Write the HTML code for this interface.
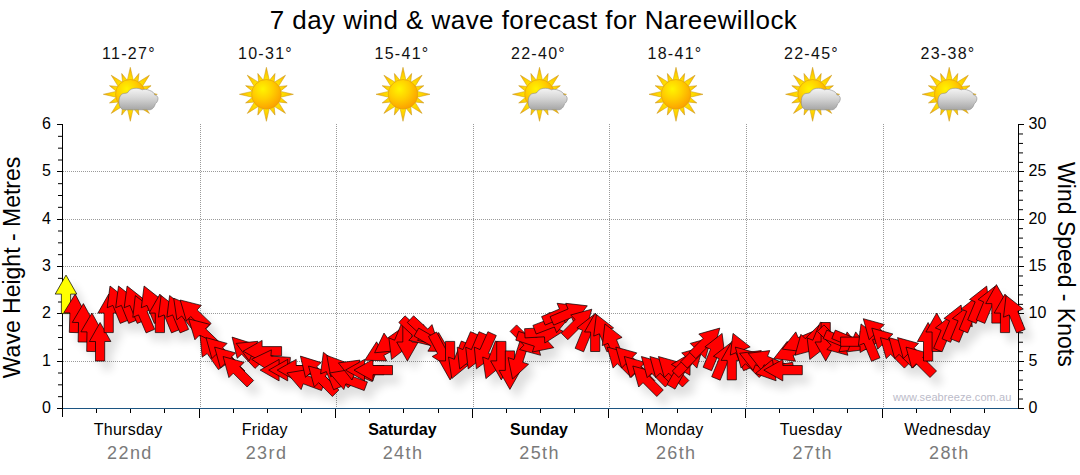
<!DOCTYPE html>
<html><head><meta charset="utf-8"><title>7 day wind &amp; wave forecast</title>
<style>
html,body{margin:0;padding:0;background:#fff;}
body{width:1080px;height:475px;overflow:hidden;font-family:"Liberation Sans",sans-serif;}
svg{display:block;position:absolute;left:0;top:0;}
text{font-family:"Liberation Sans",sans-serif;}
.title{font-size:26px;fill:#000;text-anchor:middle;letter-spacing:0.44px;}
.temp{font-size:16px;fill:#111;text-anchor:middle;letter-spacing:1.3px;}
.ylab{font-size:16px;fill:#000;}
.day{font-size:16px;fill:#000;text-anchor:middle;letter-spacing:0.25px;}
.dayb{font-size:16px;fill:#000;text-anchor:middle;font-weight:bold;}
.date{font-size:18px;fill:#7a7a7a;text-anchor:middle;letter-spacing:1.4px;}
.atitle{font-size:23px;fill:#000;text-anchor:middle;}
.wm{font-size:11px;fill:#bbbbc9;letter-spacing:0.08px;}
</style></head>
<body>
<svg width="1080" height="475" viewBox="0 0 1080 475">
<defs>
<radialGradient id="sunG" cx="0.38" cy="0.32" r="0.75">
<stop offset="0" stop-color="#fff400"/><stop offset="0.45" stop-color="#ffcf00"/><stop offset="1" stop-color="#fb9a00"/>
</radialGradient>
<linearGradient id="rayG" x1="0" y1="1" x2="0" y2="0">
<stop offset="0" stop-color="#ffe600"/><stop offset="0.55" stop-color="#ffcc00"/><stop offset="1" stop-color="#f3a000"/>
</linearGradient>
<linearGradient id="cloudG" x1="0" y1="0" x2="0" y2="1">
<stop offset="0" stop-color="#f4f4f4"/><stop offset="0.45" stop-color="#d6d6d6"/><stop offset="1" stop-color="#a6a6a6"/>
</linearGradient>
<filter id="sh" x="-5%" y="-20%" width="110%" height="150%">
<feGaussianBlur in="SourceAlpha" stdDeviation="4.5"/>
<feOffset dx="7" dy="9"/>
<feComponentTransfer><feFuncA type="linear" slope="0.13"/></feComponentTransfer>
<feMerge><feMergeNode/><feMergeNode in="SourceGraphic"/></feMerge>
</filter>
<g id="sun">
<g id="rays">
<path id="rl" d="M-3.1,-13.5 L0,-27 L3.1,-13.5 Z" fill="url(#rayG)" stroke="#c79a18" stroke-width="0.5"/>
<use href="#rl" transform="rotate(45)"/><use href="#rl" transform="rotate(90)"/><use href="#rl" transform="rotate(135)"/>
<use href="#rl" transform="rotate(180)"/><use href="#rl" transform="rotate(225)"/><use href="#rl" transform="rotate(270)"/><use href="#rl" transform="rotate(315)"/>
<path id="rs" d="M-2.7,-13.5 L0,-22.5 L2.7,-13.5 Z" fill="url(#rayG)" stroke="#c79a18" stroke-width="0.5" transform="rotate(22.5)"/>
<use href="#rs" transform="rotate(45)"/><use href="#rs" transform="rotate(90)"/><use href="#rs" transform="rotate(135)"/>
<use href="#rs" transform="rotate(180)"/><use href="#rs" transform="rotate(225)"/><use href="#rs" transform="rotate(270)"/><use href="#rs" transform="rotate(315)"/>
</g>
<circle r="14.8" fill="url(#sunG)" stroke="#e09a10" stroke-width="0.6"/>
</g>
<g id="cloudsun">
<use href="#sun"/>
<path d="M-5.5,15.5 C-9.5,15.5 -11.3,12 -11.3,8 C-11.5,3 -9.5,-0.5 -6.5,-0.8 C-5,-1 -3.5,-1 -2.5,-1.8 C-1,-5 3,-6.3 6,-6 C8.5,-6 10.5,-5.3 12,-4.5 C14,-5.3 17,-5 19,-4 C22,-3 24,-1.5 24.3,0.5 C26.5,1 27.8,2.5 27.7,4.5 C27.6,6.5 26.5,8.5 25,9.5 C24,13 22,15.5 19,15.5 Z" fill="url(#cloudG)" stroke="#8a8a8a" stroke-width="0.6"/>
</g>
</defs>

<!-- title -->
<text class="title" x="533.5" y="28.5">7 day wind &amp; wave forecast for Nareewillock</text>

<!-- temps -->
<g>
<text class="temp" x="129" y="59">11-27°</text>
<text class="temp" x="265.5" y="59">10-31°</text>
<text class="temp" x="402" y="59">15-41°</text>
<text class="temp" x="538.5" y="59">22-40°</text>
<text class="temp" x="675" y="59">18-41°</text>
<text class="temp" x="811.5" y="59">22-45°</text>
<text class="temp" x="948" y="59">23-38°</text>
</g>

<!-- icons -->
<use href="#cloudsun" x="130.3" y="94.3"/>
<use href="#sun" x="266.4" y="94.3"/>
<use href="#sun" x="403" y="94.3"/>
<use href="#cloudsun" x="539.5" y="94.3"/>
<use href="#sun" x="676" y="94.3"/>
<use href="#cloudsun" x="812.6" y="94.3"/>
<use href="#cloudsun" x="949.2" y="94.3"/>

<!-- grid -->
<g stroke="#9a9a9a" stroke-width="1" stroke-dasharray="1,1" fill="none" shape-rendering="crispEdges">
<path d="M63,171.5H1018 M63,219.5H1018 M63,266.5H1018 M63,313.5H1018 M63,361.5H1018"/>
<path d="M200.5,124V408 M336.5,124V408 M473.5,124V408 M609.5,124V408 M746.5,124V408 M883.5,124V408"/>
</g>

<!-- axes -->
<g stroke="#000" stroke-width="1" fill="none" shape-rendering="crispEdges">
<path d="M62.5,124V417"/>
<path d="M1018.5,124V409"/>
<path d="M57,124.5H62 M57,171.5H62 M57,219.5H62 M57,266.5H62 M57,313.5H62 M57,361.5H62 M57,408.5H62 M1019,124.5H1024 M1019,171.5H1024 M1019,219.5H1024 M1019,266.5H1024 M1019,313.5H1024 M1019,361.5H1024 M1019,408.5H1024"/></g><g stroke="#000" stroke-width="1" fill="none"><path d="M58,136.33H62 M58,148.17H62 M58,160.00H62 M58,183.67H62 M58,195.50H62 M58,207.33H62 M58,231.00H62 M58,242.83H62 M58,254.67H62 M58,278.33H62 M58,290.17H62 M58,302.00H62 M58,325.67H62 M58,337.50H62 M58,349.33H62 M58,373.00H62 M58,384.83H62 M58,396.67H62 M1019,133.97H1023 M1019,143.43H1023 M1019,152.90H1023 M1019,162.37H1023 M1019,181.30H1023 M1019,190.77H1023 M1019,200.23H1023 M1019,209.70H1023 M1019,228.63H1023 M1019,238.10H1023 M1019,247.57H1023 M1019,257.03H1023 M1019,275.97H1023 M1019,285.43H1023 M1019,294.90H1023 M1019,304.37H1023 M1019,323.30H1023 M1019,332.77H1023 M1019,342.23H1023 M1019,351.70H1023 M1019,370.63H1023 M1019,380.10H1023 M1019,389.57H1023 M1019,399.03H1023"/>
</g>
<path d="M63,408.5H1018" stroke="#1c5582" stroke-width="1" shape-rendering="crispEdges"/>
<path d="M96.5,409V413 M130.5,409V413 M164.5,409V413 M199.5,409V418 M233.5,409V413 M267.5,409V413 M301.5,409V413 M335.5,409V418 M369.5,409V413 M403.5,409V413 M438.5,409V413 M472.5,409V418 M506.5,409V413 M540.5,409V413 M574.5,409V413 M608.5,409V418 M642.5,409V413 M677.5,409V413 M711.5,409V413 M745.5,409V418 M779.5,409V413 M813.5,409V413 M847.5,409V413 M882.5,409V418 M916.5,409V413 M950.5,409V413 M984.5,409V413" stroke="#000" stroke-width="1" shape-rendering="crispEdges" fill="none"/>

<!-- y labels -->
<text class="ylab" x="51" y="413.0" text-anchor="end">0</text>
<text class="ylab" x="51" y="365.7" text-anchor="end">1</text>
<text class="ylab" x="51" y="318.3" text-anchor="end">2</text>
<text class="ylab" x="51" y="271.0" text-anchor="end">3</text>
<text class="ylab" x="51" y="223.7" text-anchor="end">4</text>
<text class="ylab" x="51" y="176.3" text-anchor="end">5</text>
<text class="ylab" x="51" y="129.0" text-anchor="end">6</text>
<text class="ylab" x="1028.5" y="413.0">0</text>
<text class="ylab" x="1028.5" y="365.7">5</text>
<text class="ylab" x="1028.5" y="318.3">10</text>
<text class="ylab" x="1028.5" y="271.0">15</text>
<text class="ylab" x="1028.5" y="223.7">20</text>
<text class="ylab" x="1028.5" y="176.3">25</text>
<text class="ylab" x="1028.5" y="129.0">30</text>

<!-- axis titles -->
<text class="atitle" transform="translate(20.3,267.5) rotate(-90)">Wave Height - Metres</text>
<text class="atitle" transform="translate(1058.2,264.4) rotate(90)">Wind Speed - Knots</text>

<!-- day labels -->
<text class="day" x="128.1" y="434.5">Thursday</text>
<text class="date" x="129.9" y="458.5">22nd</text>
<text class="day" x="264.7" y="434.5">Friday</text>
<text class="date" x="266.5" y="458.5">23rd</text>
<text class="dayb" x="402.4" y="434.5">Saturday</text>
<text class="date" x="403.0" y="458.5">24th</text>
<text class="dayb" x="539.0" y="434.5">Sunday</text>
<text class="date" x="539.6" y="458.5">25th</text>
<text class="day" x="674.4" y="434.5">Monday</text>
<text class="date" x="676.2" y="458.5">26th</text>
<text class="day" x="810.9" y="434.5">Tuesday</text>
<text class="date" x="812.7" y="458.5">27th</text>
<text class="day" x="947.5" y="434.5">Wednesday</text>
<text class="date" x="949.3" y="458.5">28th</text>

<text class="wm" x="893" y="401">www.seabreeze.com.au</text>

<!-- arrows -->
<g filter="url(#sh)" stroke="#000" stroke-width="0.7" stroke-linejoin="miter">
<polygon points="66.0,275.1 76.8,294.1 70.6,294.1 70.6,313.6 61.4,313.6 61.4,294.1 55.2,294.1" fill="#ffff00"/>
<polygon points="75.2,294.1 85.3,313.5 79.1,313.2 78.5,332.7 69.3,332.4 69.9,312.9 63.8,312.7" fill="#ff0000"/>
<polygon points="83.4,303.6 93.8,322.7 87.7,322.6 87.3,342.1 78.1,342.0 78.5,322.5 72.3,322.4" fill="#ff0000"/>
<polygon points="91.9,313.0 102.4,332.2 96.2,332.1 95.9,351.6 86.7,351.4 87.0,331.9 80.9,331.8" fill="#ff0000"/>
<polygon points="100.1,322.5 110.9,341.5 104.7,341.5 104.7,361.0 95.5,361.0 95.5,341.5 89.4,341.5" fill="#ff0000"/>
<polygon points="108.7,294.1 119.4,313.1 113.3,313.1 113.3,332.6 104.1,332.6 104.1,313.1 97.9,313.1" fill="#ff0000"/>
<polygon points="110.0,286.0 127.1,299.6 121.4,301.9 128.7,320.0 120.2,323.4 112.9,305.4 107.2,307.7" fill="#ff0000"/>
<polygon points="118.5,286.0 135.6,299.6 129.9,301.9 137.2,320.0 128.7,323.4 121.4,305.4 115.7,307.7" fill="#ff0000"/>
<polygon points="127.1,286.0 144.2,299.6 138.5,301.9 145.8,320.0 137.2,323.4 129.9,305.4 124.2,307.7" fill="#ff0000"/>
<polygon points="135.3,295.6 152.6,308.9 147.0,311.3 154.6,329.3 146.1,332.9 138.5,314.9 132.8,317.3" fill="#ff0000"/>
<polygon points="144.1,286.0 161.2,299.6 155.5,301.9 162.8,320.0 154.3,323.4 147.0,305.4 141.3,307.7" fill="#ff0000"/>
<polygon points="159.9,294.1 170.6,313.1 164.5,313.1 164.5,332.6 155.3,332.6 155.3,313.1 149.1,313.1" fill="#ff0000"/>
<polygon points="161.1,295.5 178.3,309.0 172.6,311.3 180.0,329.4 171.5,332.9 164.1,314.9 158.4,317.2" fill="#ff0000"/>
<polygon points="169.6,295.5 186.8,309.0 181.1,311.3 188.6,329.4 180.1,332.9 172.6,314.9 166.9,317.2" fill="#ff0000"/>
<polygon points="173.7,298.2 193.8,306.5 189.0,310.3 201.0,325.7 193.7,331.3 181.7,316.0 176.9,319.8" fill="#ff0000"/>
<polygon points="180.2,300.0 201.3,305.4 197.1,309.9 211.1,323.4 204.7,330.0 190.7,316.5 186.4,320.9" fill="#ff0000"/>
<polygon points="188.7,318.9 209.9,324.4 205.6,328.8 219.6,342.3 213.2,348.9 199.2,335.4 194.9,339.8" fill="#ff0000"/>
<polygon points="200.1,335.4 219.8,344.8 214.7,348.4 225.9,364.3 218.4,369.6 207.2,353.6 202.2,357.2" fill="#ff0000"/>
<polygon points="206.0,337.6 227.1,343.4 222.7,347.8 236.5,361.6 230.0,368.1 216.2,354.3 211.9,358.6" fill="#ff0000"/>
<polygon points="214.6,347.1 235.6,352.9 231.3,357.2 245.0,371.0 238.5,377.5 224.8,363.7 220.4,368.1" fill="#ff0000"/>
<polygon points="223.1,356.5 244.1,362.4 239.8,366.7 253.6,380.5 247.1,387.0 233.3,373.2 228.9,377.6" fill="#ff0000"/>
<polygon points="232.1,337.1 252.9,343.7 248.4,347.9 261.7,362.1 255.0,368.4 241.7,354.2 237.2,358.3" fill="#ff0000"/>
<polygon points="236.2,343.4 257.9,341.3 255.4,346.9 273.2,354.8 269.5,363.2 251.7,355.3 249.2,360.9" fill="#ff0000"/>
<polygon points="243.1,351.2 262.1,340.4 262.1,346.6 281.6,346.6 281.6,355.8 262.1,355.8 262.1,361.9" fill="#ff0000"/>
<polygon points="251.7,359.3 271.4,349.9 270.9,356.1 290.4,357.4 289.7,366.6 270.3,365.2 269.9,371.4" fill="#ff0000"/>
<polygon points="260.1,370.1 279.1,359.4 279.1,365.5 298.6,365.5 298.6,374.7 279.1,374.7 279.1,380.9" fill="#ff0000"/>
<polygon points="268.7,370.1 287.7,359.4 287.7,365.5 307.2,365.5 307.2,374.7 287.7,374.7 287.7,380.9" fill="#ff0000"/>
<polygon points="277.2,370.1 296.2,359.4 296.2,365.5 315.7,365.5 315.7,374.7 296.2,374.7 296.2,380.9" fill="#ff0000"/>
<polygon points="286.9,373.0 308.4,369.4 306.3,375.2 324.7,381.9 321.5,390.5 303.2,383.8 301.1,389.6" fill="#ff0000"/>
<polygon points="300.4,356.1 321.2,362.6 316.7,366.8 330.0,381.1 323.3,387.3 310.0,373.1 305.5,377.3" fill="#ff0000"/>
<polygon points="308.5,366.0 329.5,371.8 325.2,376.2 338.9,390.0 332.4,396.5 318.7,382.7 314.3,387.0" fill="#ff0000"/>
<polygon points="323.4,352.3 340.5,365.9 334.8,368.2 342.1,386.3 333.6,389.7 326.3,371.6 320.6,373.9" fill="#ff0000"/>
<polygon points="326.8,355.4 347.2,363.0 342.5,367.0 355.0,381.9 348.0,387.8 335.5,372.9 330.8,376.9" fill="#ff0000"/>
<polygon points="329.6,373.0 351.1,369.4 349.0,375.2 367.4,381.9 364.2,390.5 345.9,383.8 343.8,389.6" fill="#ff0000"/>
<polygon points="338.4,362.9 360.0,360.1 357.7,365.8 375.8,373.1 372.3,381.6 354.3,374.3 352.0,380.0" fill="#ff0000"/>
<polygon points="345.5,370.1 364.5,359.4 364.5,365.5 384.0,365.5 384.0,374.7 364.5,374.7 364.5,380.9" fill="#ff0000"/>
<polygon points="354.0,370.1 373.0,359.4 373.0,365.5 392.5,365.5 392.5,374.7 373.0,374.7 373.0,380.9" fill="#ff0000"/>
<polygon points="364.8,360.2 376.6,341.8 379.5,347.3 396.7,338.1 401.0,346.2 383.8,355.4 386.7,360.8" fill="#ff0000"/>
<polygon points="374.6,352.8 384.0,333.1 387.5,338.1 403.5,326.9 408.8,334.5 392.8,345.6 396.3,350.7" fill="#ff0000"/>
<polygon points="391.5,359.5 388.9,337.9 394.6,340.2 402.0,322.2 410.5,325.7 403.1,343.7 408.7,346.1" fill="#ff0000"/>
<polygon points="407.4,361.0 396.7,342.0 402.8,342.0 402.8,322.5 412.0,322.5 412.0,342.0 418.2,342.0" fill="#ff0000"/>
<polygon points="430.1,345.4 408.8,340.3 413.0,335.8 398.8,322.5 405.0,315.8 419.3,329.1 423.5,324.6" fill="#ff0000"/>
<polygon points="438.6,345.4 417.4,340.3 421.6,335.8 407.3,322.5 413.6,315.8 427.8,329.1 432.0,324.6" fill="#ff0000"/>
<polygon points="449.7,351.4 427.9,351.2 431.0,345.8 414.1,336.1 418.7,328.1 435.6,337.9 438.6,332.5" fill="#ff0000"/>
<polygon points="450.6,368.2 432.2,356.5 437.6,353.6 428.5,336.4 436.6,332.0 445.8,349.3 451.2,346.4" fill="#ff0000"/>
<polygon points="450.1,379.9 439.4,360.9 445.5,360.9 445.5,341.4 454.7,341.4 454.7,360.9 460.9,360.9" fill="#ff0000"/>
<polygon points="451.8,378.6 448.5,357.0 454.3,359.3 461.3,341.0 469.8,344.3 462.9,362.5 468.6,364.8" fill="#ff0000"/>
<polygon points="459.7,368.9 457.2,347.2 462.9,349.6 470.5,331.7 478.9,335.3 471.3,353.2 477.0,355.6" fill="#ff0000"/>
<polygon points="468.2,368.9 465.7,347.2 471.4,349.6 479.0,331.7 487.5,335.3 479.9,353.2 485.5,355.6" fill="#ff0000"/>
<polygon points="476.4,368.8 474.3,347.1 480.0,349.6 487.9,331.7 496.3,335.5 488.4,353.3 494.0,355.8" fill="#ff0000"/>
<polygon points="485.9,378.6 482.7,357.0 488.4,359.3 495.4,341.0 504.0,344.3 497.0,362.5 502.7,364.8" fill="#ff0000"/>
<polygon points="501.3,379.9 490.6,360.9 496.7,360.9 496.7,341.4 505.9,341.4 505.9,360.9 512.1,360.9" fill="#ff0000"/>
<polygon points="509.9,389.4 499.1,370.4 505.3,370.4 505.3,350.9 514.5,350.9 514.5,370.4 520.6,370.4" fill="#ff0000"/>
<polygon points="512.5,379.0 508.1,357.6 514.0,359.5 520.0,340.9 528.7,343.8 522.7,362.3 528.6,364.2" fill="#ff0000"/>
<polygon points="540.6,355.3 519.5,349.5 523.9,345.2 510.1,331.4 516.6,324.9 530.4,338.7 534.7,334.3" fill="#ff0000"/>
<polygon points="553.8,347.7 532.4,352.0 534.3,346.2 515.8,340.2 518.6,331.4 537.1,337.4 539.0,331.6" fill="#ff0000"/>
<polygon points="563.2,331.3 544.8,343.0 544.5,336.8 525.0,337.9 524.6,328.7 544.0,327.7 543.7,321.5" fill="#ff0000"/>
<polygon points="570.5,315.9 556.6,332.7 554.4,327.0 536.2,334.0 532.9,325.4 551.1,318.4 548.9,312.7" fill="#ff0000"/>
<polygon points="578.8,305.8 565.5,323.1 563.1,317.5 545.2,325.1 541.6,316.6 559.5,309.0 557.1,303.3" fill="#ff0000"/>
<polygon points="587.3,305.8 574.1,323.1 571.7,317.5 553.7,325.1 550.1,316.6 568.1,309.0 565.7,303.3" fill="#ff0000"/>
<polygon points="591.8,309.2 585.9,330.2 581.6,325.9 567.8,339.7 561.3,333.2 575.1,319.4 570.7,315.0" fill="#ff0000"/>
<polygon points="594.1,314.5 596.7,336.1 591.0,333.8 583.6,351.8 575.1,348.3 582.5,330.3 576.9,327.9" fill="#ff0000"/>
<polygon points="595.2,313.0 606.0,332.0 599.8,332.0 599.8,351.5 590.6,351.5 590.6,332.0 584.5,332.0" fill="#ff0000"/>
<polygon points="596.4,314.5 613.6,327.9 607.9,330.3 615.4,348.3 606.9,351.8 599.4,333.8 593.7,336.1" fill="#ff0000"/>
<polygon points="604.9,323.9 622.1,337.4 616.5,339.7 623.9,357.8 615.4,361.3 608.0,343.3 602.3,345.6" fill="#ff0000"/>
<polygon points="607.2,347.1 628.3,352.9 623.9,357.2 637.7,371.0 631.2,377.5 617.4,363.7 613.1,368.1" fill="#ff0000"/>
<polygon points="615.8,347.1 636.8,352.9 632.5,357.2 646.2,371.0 639.7,377.5 625.9,363.7 621.6,368.1" fill="#ff0000"/>
<polygon points="624.3,356.5 645.3,362.4 641.0,366.7 654.8,380.5 648.3,387.0 634.5,373.2 630.1,377.6" fill="#ff0000"/>
<polygon points="632.8,366.0 653.9,371.8 649.5,376.2 663.3,390.0 656.8,396.5 643.0,382.7 638.7,387.0" fill="#ff0000"/>
<polygon points="641.4,356.5 662.4,362.4 658.1,366.7 671.8,380.5 665.3,387.0 651.6,373.2 647.2,377.6" fill="#ff0000"/>
<polygon points="649.9,356.5 670.9,362.4 666.6,366.7 680.4,380.5 673.9,387.0 660.1,373.2 655.7,377.6" fill="#ff0000"/>
<polygon points="658.4,356.5 679.5,362.4 675.1,366.7 688.9,380.5 682.4,387.0 668.6,373.2 664.3,377.6" fill="#ff0000"/>
<polygon points="690.2,353.5 690.0,375.3 684.7,372.2 675.0,389.1 667.0,384.5 676.7,367.6 671.4,364.5" fill="#ff0000"/>
<polygon points="702.7,347.1 696.9,368.1 692.6,363.7 678.8,377.5 672.3,371.0 686.1,357.2 681.7,352.9" fill="#ff0000"/>
<polygon points="711.3,337.6 705.4,358.6 701.1,354.3 687.3,368.1 680.8,361.6 694.6,347.8 690.2,343.4" fill="#ff0000"/>
<polygon points="719.8,328.1 714.0,349.2 709.6,344.8 695.8,358.6 689.3,352.1 703.1,338.3 698.8,334.0" fill="#ff0000"/>
<polygon points="722.1,333.4 724.8,355.1 719.1,352.7 711.6,370.7 703.1,367.2 710.6,349.2 704.9,346.9" fill="#ff0000"/>
<polygon points="730.6,342.9 733.3,364.5 727.6,362.2 720.2,380.2 711.7,376.7 719.1,358.7 713.4,356.3" fill="#ff0000"/>
<polygon points="731.8,341.4 742.6,360.4 736.4,360.4 736.4,379.9 727.2,379.9 727.2,360.4 721.1,360.4" fill="#ff0000"/>
<polygon points="733.0,333.4 750.2,346.9 744.5,349.2 752.0,367.2 743.5,370.7 736.0,352.7 730.3,355.1" fill="#ff0000"/>
<polygon points="735.3,347.1 756.3,352.9 752.0,357.2 765.7,371.0 759.2,377.5 745.5,363.7 741.1,368.1" fill="#ff0000"/>
<polygon points="739.6,353.3 761.3,350.6 758.9,356.3 777.0,363.8 773.4,372.3 755.4,364.8 753.1,370.5" fill="#ff0000"/>
<polygon points="748.2,353.3 769.8,350.6 767.5,356.3 785.5,363.8 782.0,372.3 764.0,364.8 761.6,370.5" fill="#ff0000"/>
<polygon points="755.5,373.5 772.4,359.6 773.4,365.6 792.6,362.3 794.2,371.3 775.0,374.7 776.1,380.8" fill="#ff0000"/>
<polygon points="763.8,370.1 782.8,359.4 782.8,365.5 802.3,365.5 802.3,374.7 782.8,374.7 782.8,380.9" fill="#ff0000"/>
<polygon points="773.8,358.6 787.2,341.4 789.6,347.0 807.6,339.6 811.1,348.1 793.1,355.5 795.4,361.2" fill="#ff0000"/>
<polygon points="782.3,349.1 795.8,331.9 798.1,337.6 816.1,330.1 819.6,338.6 801.6,346.1 804.0,351.8" fill="#ff0000"/>
<polygon points="795.0,355.3 800.9,334.3 805.2,338.7 819.0,324.9 825.5,331.4 811.7,345.2 816.1,349.5" fill="#ff0000"/>
<polygon points="809.8,359.5 807.1,337.9 812.8,340.2 820.3,322.2 828.8,325.7 821.3,343.7 827.0,346.1" fill="#ff0000"/>
<polygon points="825.7,361.0 815.0,342.0 821.1,342.0 821.1,322.5 830.3,322.5 830.3,342.0 836.5,342.0" fill="#ff0000"/>
<polygon points="847.9,355.3 826.8,349.5 831.2,345.2 817.4,331.4 823.9,324.9 837.7,338.7 842.0,334.3" fill="#ff0000"/>
<polygon points="860.6,349.1 838.9,351.8 841.2,346.1 823.2,338.6 826.8,330.1 844.8,337.6 847.1,331.9" fill="#ff0000"/>
<polygon points="869.1,349.1 847.4,351.8 849.8,346.1 831.8,338.6 835.3,330.1 853.3,337.6 855.7,331.9" fill="#ff0000"/>
<polygon points="879.1,341.7 860.1,352.5 860.1,346.3 840.6,346.3 840.6,337.1 860.1,337.1 860.1,331.0" fill="#ff0000"/>
<polygon points="861.0,323.9 878.2,337.4 872.5,339.7 880.0,357.8 871.5,361.3 864.0,343.3 858.4,345.6" fill="#ff0000"/>
<polygon points="863.3,318.7 884.3,324.5 880.0,328.8 893.8,342.6 887.3,349.1 873.5,335.3 869.1,339.7" fill="#ff0000"/>
<polygon points="871.8,328.1 892.9,334.0 888.5,338.3 902.3,352.1 895.8,358.6 882.0,344.8 877.7,349.2" fill="#ff0000"/>
<polygon points="880.4,337.6 901.4,343.4 897.1,347.8 910.9,361.6 904.4,368.1 890.6,354.3 886.2,358.6" fill="#ff0000"/>
<polygon points="888.9,337.6 910.0,343.4 905.6,347.8 919.4,361.6 912.9,368.1 899.1,354.3 894.7,358.6" fill="#ff0000"/>
<polygon points="897.5,337.6 918.5,343.4 914.1,347.8 927.9,361.6 921.4,368.1 907.6,354.3 903.3,358.6" fill="#ff0000"/>
<polygon points="906.0,347.1 927.0,352.9 922.7,357.2 936.5,371.0 930.0,377.5 916.2,363.7 911.8,368.1" fill="#ff0000"/>
<polygon points="928.1,322.5 938.9,341.5 932.7,341.5 932.7,361.0 923.5,361.0 923.5,341.5 917.4,341.5" fill="#ff0000"/>
<polygon points="936.7,313.0 947.4,332.0 941.3,332.0 941.3,351.5 932.1,351.5 932.1,332.0 925.9,332.0" fill="#ff0000"/>
<polygon points="952.6,314.5 955.2,336.1 949.6,333.8 942.1,351.8 933.6,348.3 941.1,330.3 935.4,327.9" fill="#ff0000"/>
<polygon points="961.1,305.0 963.8,326.7 958.1,324.3 950.6,342.3 942.1,338.8 949.6,320.8 943.9,318.5" fill="#ff0000"/>
<polygon points="969.6,305.0 972.3,326.7 966.6,324.3 959.2,342.3 950.7,338.8 958.1,320.8 952.4,318.5" fill="#ff0000"/>
<polygon points="978.2,295.5 980.8,317.2 975.2,314.9 967.7,332.9 959.2,329.4 966.7,311.3 961.0,309.0" fill="#ff0000"/>
<polygon points="986.7,286.1 989.4,307.7 983.7,305.4 976.2,323.4 967.7,319.9 975.2,301.9 969.5,299.5" fill="#ff0000"/>
<polygon points="995.3,286.1 997.9,307.7 992.2,305.4 984.8,323.4 976.3,319.9 983.7,301.9 978.1,299.5" fill="#ff0000"/>
<polygon points="996.4,284.6 1007.2,303.6 1001.0,303.6 1001.0,323.1 991.8,323.1 991.8,303.6 985.7,303.6" fill="#ff0000"/>
<polygon points="1005.0,294.1 1015.7,313.1 1009.6,313.1 1009.6,332.6 1000.4,332.6 1000.4,313.1 994.2,313.1" fill="#ff0000"/>
<polygon points="1006.1,295.5 1023.3,309.0 1017.7,311.3 1025.1,329.4 1016.6,332.9 1009.2,314.9 1003.5,317.2" fill="#ff0000"/>
</g>
</svg>
</body></html>
